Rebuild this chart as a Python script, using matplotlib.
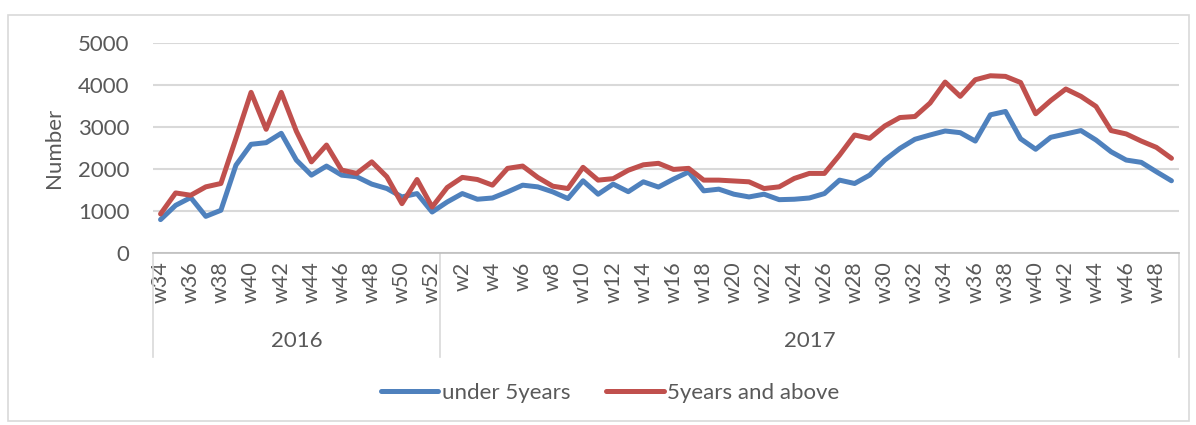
import matplotlib.pyplot as plt
import numpy as np
from matplotlib.patches import Rectangle
from matplotlib.lines import Line2D

plt.rcParams['font.family'] = ['Lato', 'DejaVu Sans']

# weeks per year (x categories)
weeks_2016 = list(range(34, 53))
weeks_2017 = list(range(1, 50))
years = ['2016', '2017']

under5 = [795, 1135, 1320, 873, 1017, 2093, 2588, 2627, 2850, 2213,
          1854, 2070, 1854, 1815, 1640, 1535, 1335, 1415, 976,
          1215, 1415, 1280, 1310, 1455, 1615, 1575, 1455, 1296, 1720,
          1400, 1640, 1460, 1695, 1570, 1760, 1930, 1480, 1520, 1400,
          1335, 1400, 1270, 1280, 1310, 1415, 1735, 1655, 1855, 2213,
          2490, 2708, 2810, 2905, 2865, 2665, 3290, 3370, 2720, 2470,
          2755, 2835, 2915, 2690, 2410, 2213, 2158, 1935, 1720]
above5 = [930, 1430, 1375, 1575, 1655, 2730, 3825, 2945, 3825, 2900,
          2170, 2570, 1975, 1895, 2170, 1815, 1175, 1750, 1095,
          1560, 1800, 1750, 1615, 2015, 2070, 1800, 1590, 1535, 2040,
          1735, 1770, 1970, 2100, 2135, 1990, 2015, 1735, 1735, 1715,
          1695, 1535, 1575, 1775, 1895, 1895, 2330, 2810, 2730, 3025,
          3225, 3250, 3570, 4070, 3730, 4125, 4220, 4205, 4060, 3315,
          3630, 3905, 3730, 3490, 2915, 2835, 2665, 2515, 2255]

week_labels = ['w%d' % w for w in weeks_2016 + weeks_2017]
n = len(week_labels)
x = np.arange(n)

text_col = '#595959'
grid_col = '#d9d9d9'
fs = 16

fig = plt.figure(figsize=(11.96, 4.25), dpi=100)
ax = fig.add_axes([153 / 1196, 1 - 253 / 425, (1179 - 153) / 1196, (253 - 43) / 425])

# outer chart border
fig.patches.append(Rectangle((8 / 1196, 4 / 425), 1181 / 1196, 406 / 425,
                             transform=fig.transFigure, fill=False,
                             edgecolor='#d9d9d9', linewidth=1.2))

ax.plot(x, under5, color='#4f81bd', linewidth=3.6, solid_joinstyle='round',
        solid_capstyle='round', label='under 5years', zorder=3)
ax.plot(x, above5, color='#c0504d', linewidth=3.6, solid_joinstyle='round',
        solid_capstyle='round', label='5years and above', zorder=3)

ax.set_xlim(-0.5, n - 0.5)
ax.set_ylim(0, 5000)
ax.set_yticks(np.arange(0, 5001, 1000))
ax.yaxis.grid(True, color=grid_col, linewidth=1.5)
ax.set_axisbelow(True)
for s in ['top', 'right', 'left']:
    ax.spines[s].set_visible(False)
ax.spines['bottom'].set_color('#bfbfbf')
ax.spines['bottom'].set_linewidth(1.2)
ax.tick_params(axis='y', length=0, labelsize=fs, labelcolor=text_col, pad=17)
ax.set_ylabel('Number', fontsize=fs, color=text_col, labelpad=10)

# week ticks: every other label
ax.set_xticks(x[::2])
ax.set_xticklabels(week_labels[::2], rotation=90, fontsize=fs - 0.5, color=text_col)
ax.tick_params(axis='x', length=0, pad=6)

# multi-level year axis
trans = ax.get_xaxis_transform()
n16 = len(weeks_2016)
bounds = [-0.5, n16 - 0.5, n - 0.5]
for b in bounds:
    ax.add_line(Line2D([b, b], [0, -104 / 210], transform=trans, color=grid_col,
                       linewidth=1.2, clip_on=False))
for i, yr in enumerate(years):
    ax.text((bounds[i] + bounds[i + 1]) / 2, -88 / 210, yr, transform=trans,
            ha='center', va='center', fontsize=fs, color=text_col)

leg = fig.legend(loc='center', bbox_to_anchor=(0.51, 1 - 393 / 425), ncol=2, frameon=False,
                 fontsize=fs, handlelength=2.6, handletextpad=0.15, columnspacing=1.6)
for t in leg.get_texts():
    t.set_color(text_col)

fig.savefig('out.png', dpi=100)
